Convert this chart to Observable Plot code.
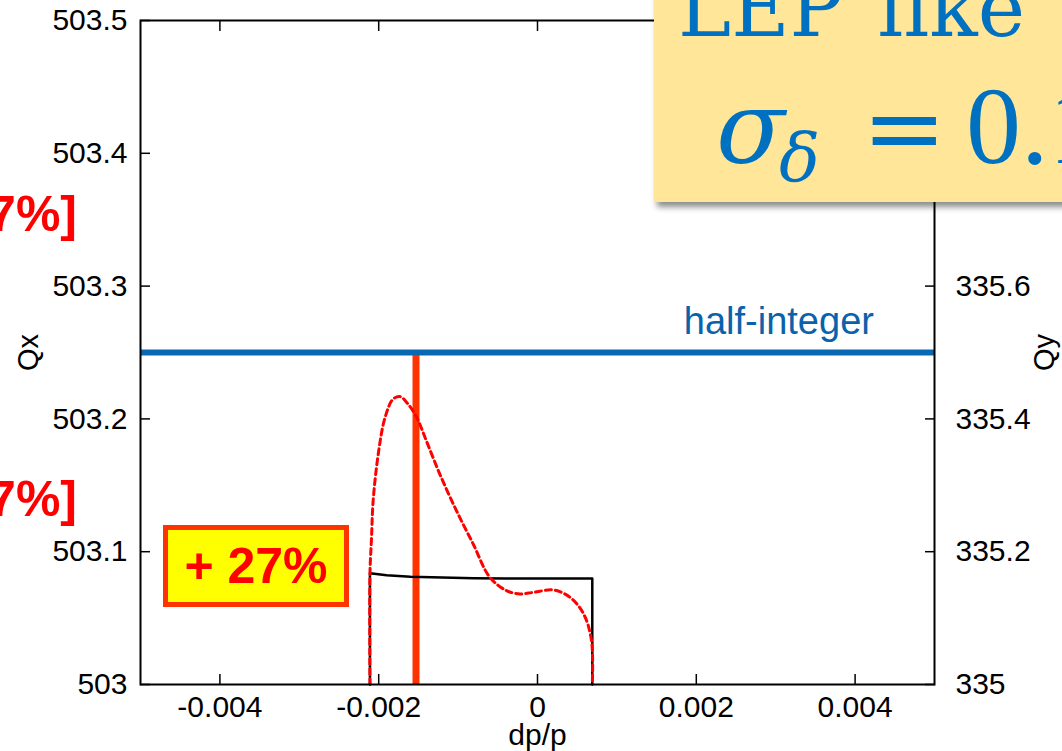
<!DOCTYPE html>
<html>
<head>
<meta charset="utf-8">
<script src="https://cdn.jsdelivr.net/npm/d3@7"></script>
<script src="https://cdn.jsdelivr.net/npm/@observablehq/plot@0.6"></script>
<style>
  html, body { margin: 0; padding: 0; background: #fff; overflow: hidden; }
  #wrap { position: relative; width: 1062px; height: 751px; overflow: hidden; font-family: "Liberation Sans", Arial, sans-serif; }
  #wrap svg { position: absolute; left: 0; top: 0; }
  .abs { position: absolute; line-height: 1; white-space: nowrap; }
  #lepbox { position: absolute; left: 654px; top: -20px; width: 440px; height: 222px; background: #FFE699; box-shadow: 3px 5px 6px rgba(0,0,0,0.45); }
  .lep { font-family: "DejaVu Serif", serif; color: #0070C0; }
  .lep2 { font-family: "Liberation Serif", serif; color: #0070C0; }
  #pct { position: absolute; left: 163px; top: 525px; width: 186px; height: 82px; box-sizing: border-box; border: 5px solid #FF3300; background: #FFFF00; color: #FF0000; font: bold 50px "Liberation Sans", Arial, sans-serif; display: flex; align-items: center; justify-content: center; white-space: nowrap; }
  .side { color: #FF0000; font: bold 50px "Liberation Sans", Arial, sans-serif; text-align: right; }
</style>
</head>
<body>
<div id="wrap"></div>
<script>
// ---- data ----
const xTicks = [-0.004, -0.002, 0, 0.002, 0.004];
const xTickLabels = ["-0.004", "-0.002", "0", "0.002", "0.004"];
const qxTicks = [503, 503.1, 503.2, 503.3, 503.4, 503.5];
const qxTickLabels = ["503", "503.1", "503.2", "503.3", "503.4", "503.5"];
// right axis (Qy 335..336 spans the same height as Qx 503..503.5); upper labels are hidden by the box
const qyTicksAt = [503, 503.1, 503.2, 503.3];
const qyTickLabels = ["335", "335.2", "335.4", "335.6"];

const halfInteger = 503.25;
const halfLabelDpp = 0.00304;
const markerDpp = -0.00153;

// black solid tune curve
const blackDpp = [-0.00211, -0.00211, -0.0019, -0.0016, -0.0012, -0.0008, -0.0004, 0, 0.0004, 0.00069, 0.00069];
const blackQx  = [503, 503.0837, 503.0822, 503.0812, 503.0805, 503.0801, 503.0799, 503.0798, 503.0798, 503.0798, 503];

// red dashed tune curve
const redDpp = [-0.00211, -0.00211, -0.00209, -0.00207, -0.0020, -0.00192, -0.00182, -0.00173, -0.00163, -0.00152, -0.0014, -0.00123, -0.00102, -0.00081, -0.0006, -0.00039, -0.00022, -0.00005, 0.0002, 0.00041, 0.00058, 0.00068, 0.00069];
const redQx  = [503, 503.0837, 503.1108, 503.1383, 503.1759, 503.2010, 503.2148, 503.2168, 503.2111, 503.2010, 503.1835, 503.1584, 503.1308, 503.1058, 503.0807, 503.0707, 503.0682, 503.0694, 503.0712, 503.0656, 503.0532, 503.0331, 503];

const blackData = blackDpp.map((x, i) => ({x, y: blackQx[i]}));
const redData = redDpp.map((x, i) => ({x, y: redQx[i]}));
const qxLabel = d => qxTickLabels[qxTicks.indexOf(d)];
const qyLabel = d => qyTickLabels[qyTicksAt.indexOf(d)];
const xLabel = d => xTickLabels[xTicks.indexOf(d)];

const chart = Plot.plot({
  width: 1062,
  height: 751,
  marginLeft: 140,
  marginRight: 128,
  marginTop: 20,
  marginBottom: 67,
  style: { fontFamily: "Liberation Sans, Arial, sans-serif", color: "black", background: "transparent", overflow: "visible" },
  x: { domain: [-0.005, 0.005], axis: null },
  y: { domain: [503, 503.5], axis: null },
  marks: [
    Plot.ruleX([markerDpp], { y1: 503, y2: halfInteger, stroke: "#FF3300", strokeWidth: 7 }),
    Plot.ruleY([halfInteger], { stroke: "#0868B2", strokeWidth: 6 }),
    Plot.text(["half-integer"], { x: halfLabelDpp, y: halfInteger, dy: -31, text: d => d, fontSize: 38, fill: "#0A62AA", textAnchor: "middle" }),
    Plot.line(blackData, { x: "x", y: "y", stroke: "black", strokeWidth: 2.5 }),
    Plot.line(redData, { x: "x", y: "y", stroke: "#FF0000", strokeWidth: 3, strokeDasharray: "6,4", curve: "catmull-rom" }),
    Plot.frame({ stroke: "black", strokeWidth: 2 }),
    // inward ticks
    Plot.axisY(qxTicks, { anchor: "left", tickSize: 10, dx: 10, fill: "none", label: null, strokeWidth: 1.5 }),
    Plot.axisY(qxTicks, { anchor: "right", tickSize: 10, dx: -10, fill: "none", label: null, strokeWidth: 1.5 }),
    Plot.axisX(xTicks, { anchor: "bottom", tickSize: 10, dy: -10, fill: "none", label: null, strokeWidth: 1.5 }),
    Plot.axisX(xTicks, { anchor: "top", tickSize: 10, dy: 10, fill: "none", label: null, strokeWidth: 1.5 }),
    // tick labels
    Plot.axisY(qxTicks, { anchor: "left", tickSize: 0, tickPadding: 13, tickFormat: qxLabel, label: null, fontSize: 30 }),
    Plot.axisY(qyTicksAt, { anchor: "right", tickSize: 0, tickPadding: 21, tickFormat: qyLabel, label: null, fontSize: 30 }),
    Plot.axisX(xTicks, { anchor: "bottom", tickSize: 0, tickPadding: 11, tickFormat: xLabel, label: null, fontSize: 30 }),
    // axis titles
    Plot.text(["Qx"], { frameAnchor: "left", dx: -112, rotate: -90, text: d => d, fontSize: 29, textAnchor: "middle", lineAnchor: "middle" }),
    Plot.text(["Qy"], { frameAnchor: "right", dx: 110, rotate: -90, text: d => d, fontSize: 29, textAnchor: "middle", lineAnchor: "middle" }),
    Plot.text(["dp/p"], { frameAnchor: "bottom", dy: 51, text: d => d, fontSize: 30, textAnchor: "middle", lineAnchor: "middle" })
  ]
});

const wrap = document.getElementById("wrap");
wrap.appendChild(chart);
wrap.insertAdjacentHTML("beforeend", `
  <div class="abs side" style="right:985px; top:185px;">7%]</div>
  <div class="abs side" style="right:985px; top:470px;">7%]</div>
  <div id="pct">+ 27%</div>
  <div id="lepbox"></div>
  <div class="abs lep" style="left:678px; top:-31px; font-size:80px;">LEP</div>
  <div class="abs lep" style="left:878px; top:-31px; font-size:80px;">like</div>
  <div class="abs lep" style="left:716px; top:78px; font-size:101px; font-style:italic;">σ</div>
  <div class="abs lep" style="left:779px; top:124px; font-size:68px; font-style:italic;">δ</div>
  <div class="abs lep" style="left:862px; top:78px; font-size:101px;">=</div>
  <div class="abs lep2" style="left:966px; top:71px; font-size:110px;">0.1</div>
`);
</script>
</body>
</html>
